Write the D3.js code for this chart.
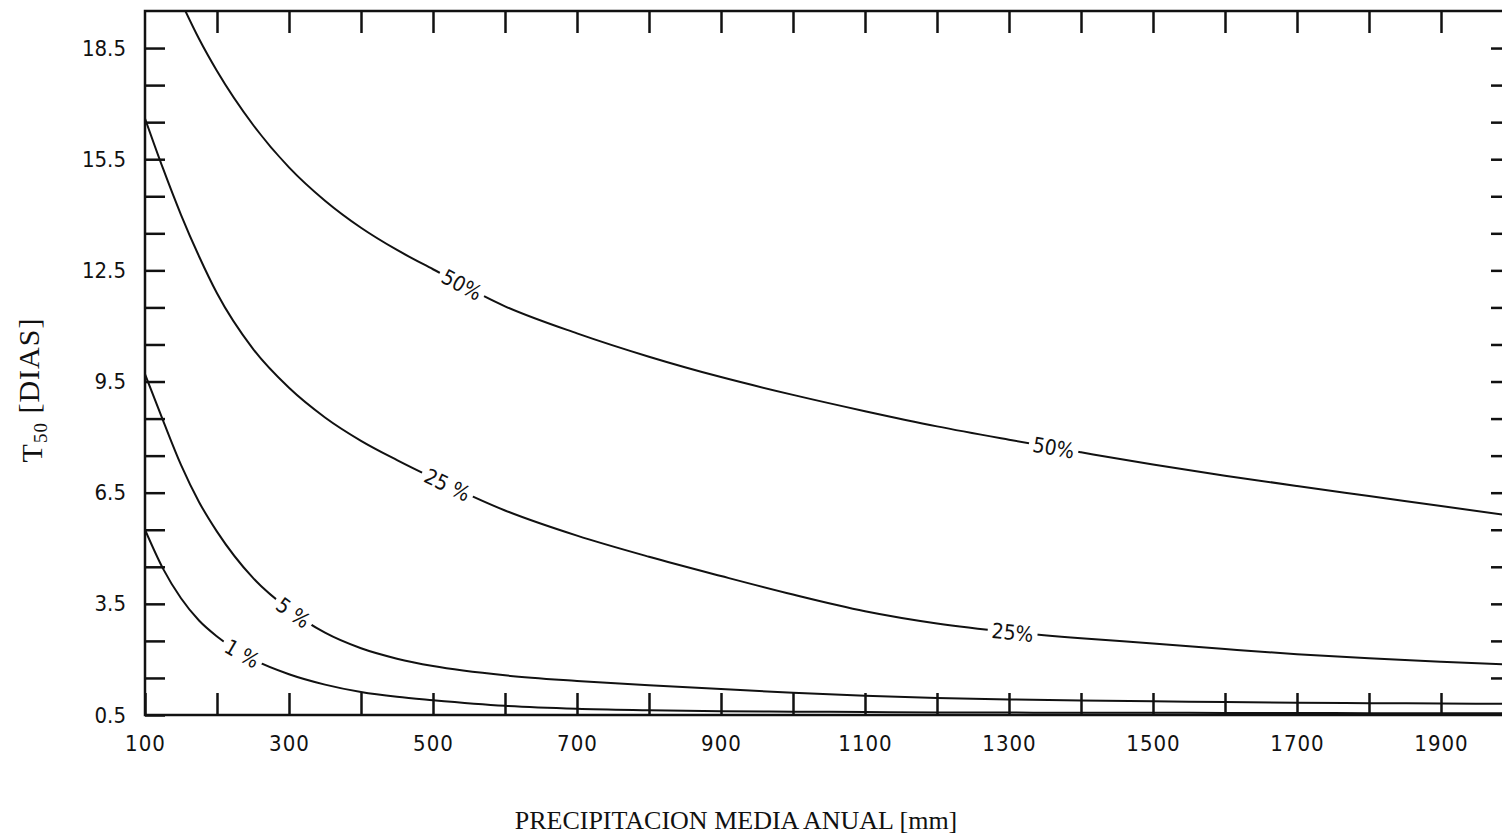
<!DOCTYPE html>
<html>
<head>
<meta charset="utf-8">
<script src="https://cdn.jsdelivr.net/npm/d3@7"></script>
<style>
	body { margin: 0; background: #fff; }
	svg { display: block; }
</style>
</head>
<body>
<svg id="chart" width="1502" height="837"></svg>
<script>
// precipitacion media anual [mm]
const precip = [100, 125, 150, 175, 200, 250, 300, 350, 400, 450, 500, 600, 700, 800, 900, 1000, 1100, 1200, 1300, 1400, 1500, 1600, 1700, 1800, 1900, 2000]

// T50 [dias] for each curve
const t50_50 = [null, null, 19.75, 18.75, 17.88, 16.43, 15.28, 14.38, 13.65, 13.05, 12.53, 11.53, 10.8, 10.17, 9.62, 9.14, 8.7, 8.29, 7.93, 7.59, 7.26, 6.96, 6.68, 6.41, 6.14, 5.87]
const t50_25 = [16.6, 15.25, 14.0, 12.88, 11.88, 10.38, 9.33, 8.53, 7.9, 7.38, 6.9, 6.02, 5.34, 4.77, 4.25, 3.75, 3.3, 2.97, 2.74, 2.57, 2.43, 2.28, 2.14, 2.03, 1.94, 1.86]
const t50_5 = [9.7, 8.45, 7.25, 6.25, 5.45, 4.2, 3.35, 2.72, 2.3, 2.02, 1.82, 1.57, 1.42, 1.3, 1.2, 1.1, 1.02, 0.96, 0.92, 0.89, 0.87, 0.85, 0.83, 0.82, 0.81, 0.8]
const t50_1 = [5.5, 4.45, 3.65, 3.05, 2.62, 2.0, 1.6, 1.32, 1.12, 0.99, 0.9, 0.75, 0.67, 0.63, 0.6, 0.59, 0.58, 0.57, 0.565, 0.56, 0.56, 0.555, 0.555, 0.55, 0.55, 0.55]

const curves = [t50_50, t50_25, t50_5, t50_1]

// labels sitting on the curves (which curve, where along x, text)
const labelCurve = [0, 0, 1, 1, 2, 3]
const labelAt = [540, 1362, 520, 1305, 306, 235]
const labelText = ['50%', '50%', '25 %', '25%', '5 %', '1 %']

const xTickLabels = [100, 300, 500, 700, 900, 1100, 1300, 1500, 1700, 1900]
const yTickLabels = [0.5, 3.5, 6.5, 9.5, 12.5, 15.5, 18.5]

const svg = d3.select('#chart')

const x = d3.scaleLinear().domain([100, 2000]).range([145, 1513])
const y = d3.scaleLinear().domain([0.5, 19.5]).range([715, 11])

const tickFont = '"DejaVu Sans Condensed", "DejaVu Sans", sans-serif'
const titleFont = '"Liberation Serif", "DejaVu Serif", serif'

svg.append('clipPath').attr('id', 'plot-clip')
	.append('rect')
	.attr('x', x(100)).attr('y', y(19.5))
	.attr('width', x(2000) - x(100)).attr('height', y(0.5) - y(19.5))

// curves
const line = d3.line()
	.defined((d) => d[1] != null)
	.x((d) => x(d[0]))
	.y((d) => y(d[1]))
	.curve(d3.curveMonotoneX)

const paths = svg.append('g')
	.attr('clip-path', 'url(#plot-clip)')
	.selectAll('path')
	.data(curves)
	.join('path')
	.attr('d', (vals) => line(precip.map((p, i) => [p, vals[i]])))
	.style('fill', 'none')
	.style('stroke', '#111')
	.style('stroke-width', 2)

// find the length along a path where it reaches a given screen x
function lengthAtX(node, px) {
	let lo = 0
	let hi = node.getTotalLength()
	for (let i = 0; i < 40; i++) {
		const mid = (lo + hi) / 2
		if (node.getPointAtLength(mid).x < px) lo = mid
		else hi = mid
	}
	return lo
}

// labels with white gaps cut into the curves
const labelLayer = svg.append('g')
labelAt.forEach((at, i) => {
	const node = paths.nodes()[labelCurve[i]]
	const len = lengthAtX(node, x(at))
	const p = node.getPointAtLength(len)
	const a = node.getPointAtLength(Math.max(0, len - 15))
	const b = node.getPointAtLength(len + 15)
	const angle = (Math.atan2(b.y - a.y, b.x - a.x) * 180) / Math.PI

	const g = labelLayer.append('g').attr('transform', `translate(${p.x},${p.y}) rotate(${angle})`)
	const gap = g.append('rect').style('fill', '#fff')
	const t = g.append('text')
		.text(labelText[i])
		.attr('text-anchor', 'middle')
		.attr('dy', '0.36em')
		.style('font-family', tickFont)
		.style('font-size', '21px')
		.style('fill', '#111')
	const w = t.node().getComputedTextLength() + 8
	gap.attr('x', -w / 2).attr('y', -9).attr('width', w).attr('height', 18)
})

// axes, ticks pointing inward
const axisStyle = (g) => {
	g.select('.domain').remove()
	g.selectAll('line').style('stroke', '#111').style('stroke-width', 2.5)
	g.selectAll('text').style('font-family', tickFont).style('fill', '#111')
}

svg.append('g')
	.attr('transform', `translate(0,${y(0.5)})`)
	.call(d3.axisBottom(x)
		.tickValues(d3.range(100, 2000, 100))
		.tickSizeInner(-22).tickSizeOuter(0).tickPadding(20)
		.tickFormat((d) => (xTickLabels.includes(d) ? d : '')))
	.call(axisStyle)
	.selectAll('text').style('font-size', '22px').style('letter-spacing', '1px')

svg.append('g')
	.attr('transform', `translate(${x(100)},0)`)
	.call(d3.axisLeft(y)
		.tickValues(d3.range(0.5, 19, 1))
		.tickSizeInner(-20).tickSizeOuter(0).tickPadding(19)
		.tickFormat((d) => (yTickLabels.includes(d) ? d.toFixed(1) : '')))
	.call(axisStyle)
	.selectAll('text').style('font-size', '22px')

svg.append('g')
	.attr('transform', `translate(0,${y(19.5)})`)
	.call(d3.axisTop(x).tickValues(d3.range(200, 2000, 100)).tickSizeInner(-22).tickSizeOuter(0).tickFormat(''))
	.call(axisStyle)

svg.append('g')
	.attr('transform', `translate(${x(2000)},0)`)
	.call(d3.axisRight(y).tickValues(d3.range(1.5, 19, 1)).tickSizeInner(-22).tickSizeOuter(0).tickFormat(''))
	.call(axisStyle)

// frame
svg.append('rect')
	.attr('x', x(100)).attr('y', y(19.5))
	.attr('width', x(2000) - x(100)).attr('height', y(0.5) - y(19.5))
	.style('fill', 'none')
	.style('stroke', '#111')
	.style('stroke-width', 2.5)

// axis titles
svg.append('text')
	.attr('x', 736).attr('y', 829)
	.attr('text-anchor', 'middle')
	.style('font-family', titleFont)
	.style('font-size', '26px')
	.style('fill', '#111')
	.text('PRECIPITACION MEDIA ANUAL [mm]')

const yTitle = svg.append('text')
	.attr('transform', 'translate(42,390) rotate(-90)')
	.attr('text-anchor', 'middle')
	.style('font-family', titleFont)
	.style('font-size', '30px')
	.style('letter-spacing', '1px')
	.style('fill', '#111')
yTitle.append('tspan').text('T')
yTitle.append('tspan').attr('dy', '0.25em').style('font-size', '19px').text('50')
yTitle.append('tspan').attr('dy', '-0.25em').text('\u00a0[DIAS]')
</script>
</body>
</html>
